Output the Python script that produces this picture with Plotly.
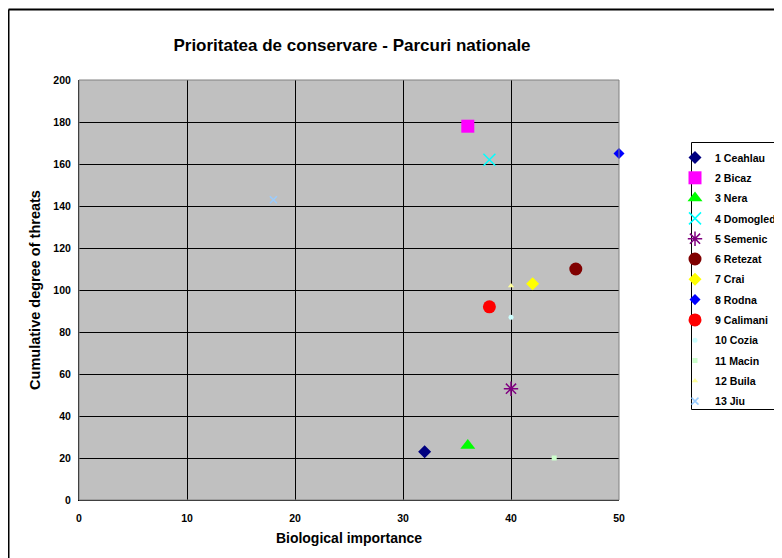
import plotly.graph_objects as go

names = ["1 Ceahlau", "2 Bicaz", "3 Nera", "4 Domogled", "5 Semenic", "6 Retezat",
         "7 Crai", "8 Rodna", "9 Calimani", "10 Cozia", "11 Macin", "12 Buila", "13 Jiu"]
bio_importance = [32, 36, 36, 38, 40, 46, 42, 50, 38, 40, 44, 40, 18]
threats = [23, 178, 26, 162, 53, 110, 103, 165, 92, 87, 20, 102, 143]
colors = ["#000080", "#FF00FF", "#00FF00", "#00FFFF", "#800080", "#800000",
          "#FFFF00", "#0000FF", "#FF0000", "#CCFFFF", "#CCFFCC", "#FFFF99", "#99CCFF"]
symbols = ["diamond", "square", "triangle-up", "x-thin-open", "asterisk-open", "circle",
           "diamond", "diamond", "circle", "circle", "square", "triangle-up", "x-thin-open"]
sizes = [10, 13, 13, 12, 12, 13, 10, 8.5, 13, 5, 5, 5.5, 7]

x_ticks = [0, 10, 20, 30, 40, 50]
y_ticks = [0, 20, 40, 60, 80, 100, 120, 140, 160, 180, 200]

FONT = "Arial, Liberation Sans, sans-serif"

fig = go.Figure()
for i, n in enumerate(names):
    open_sym = symbols[i].endswith("open")
    fig.add_trace(go.Scatter(
        x=[bio_importance[i]], y=[threats[i]], mode="markers", name=n,
        legendgroup=n, cliponaxis=False,
        marker=dict(symbol=symbols[i], size=sizes[i], color=colors[i],
                    line=dict(color=colors[i], width=1.5 if open_sym else 0)),
    ))

# page offset (browser body margin) is 8px; figure coordinates below
OFF = 8
W, H = 774, 550
L, R, T, B = 71, 163, 72, 58
pw, ph = W - L - R, H - T - B

def px(xs):
    return (xs - OFF - L) / pw

def py(ys):
    return (H - B - (ys - OFF)) / ph

fig.update_layout(
    width=W, height=H,
    margin=dict(l=L, r=R, t=T, b=B, autoexpand=False),
    paper_bgcolor="white", plot_bgcolor="#C0C0C0",
    font=dict(family=FONT, color="black"),
    title=dict(text="Prioritatea de conservare - Parcuri nationale",
               font=dict(size=17, weight="bold", family=FONT),
               x=(352 - OFF) / W, xanchor="center", y=1 - (45 - OFF) / H, yanchor="middle"),
    xaxis=dict(range=[0, 50], tickvals=x_ticks, ticktext=[str(v) for v in x_ticks],
               showgrid=True, gridcolor="black", gridwidth=1, zeroline=False,
               showline=True, linecolor="black", linewidth=1, ticks="",
               ticklabelstandoff=8,
               tickfont=dict(size=10.5, weight="bold"),
               title=dict(text="Biological importance", font=dict(size=14, weight="bold"), standoff=10)),
    yaxis=dict(range=[0, 200], tickvals=y_ticks, ticktext=[str(v) for v in y_ticks],
               showgrid=True, gridcolor="black", gridwidth=1, zeroline=False,
               showline=True, linecolor="black", linewidth=1, ticks="",
               ticklabelstandoff=5,
               tickfont=dict(size=10.5, weight="bold"),
               title=dict(text="Cumulative degree of threats", font=dict(size=14.5, weight="bold"), standoff=9)),
    legend=dict(x=px(675), y=py(143), xanchor="left", yanchor="top",
                bgcolor="rgba(0,0,0,0)", borderwidth=0,
                font=dict(size=10.6, weight="bold"), traceorder="grouped",
                tracegroupgap=1.3, itemwidth=30),
    shapes=[
        dict(type="rect", xref="paper", yref="paper", x0=0, x1=1, y0=0, y1=1,
             line=dict(color="#808080", width=1), fillcolor="rgba(0,0,0,0)", layer="above"),
        # legend frame
        dict(type="rect", xref="paper", yref="paper", x0=px(691.5), x1=px(800),
             y0=py(409.5), y1=py(142.5),
             line=dict(color="black", width=1), fillcolor="rgba(0,0,0,0)", layer="above"),
        # outer chart frame
        dict(type="line", xref="paper", yref="paper", x0=px(8.5), x1=px(800), y0=py(9.5), y1=py(9.5),
             line=dict(color="black", width=2)),
        dict(type="line", xref="paper", yref="paper", x0=px(8.5), x1=px(8.5), y0=py(9.5), y1=py(580),
             line=dict(color="black", width=2)),
    ],
)

fig.write_html("out.html")
